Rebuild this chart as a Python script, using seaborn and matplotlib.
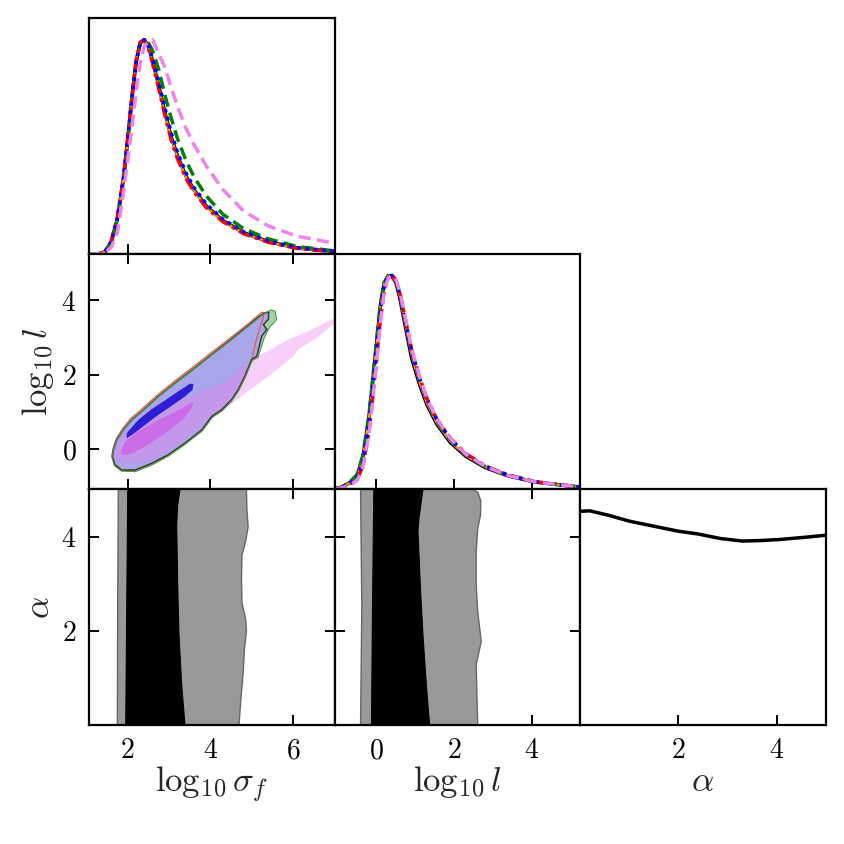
import matplotlib
matplotlib.use("Agg")
import matplotlib.pyplot as plt
import seaborn as sns
from matplotlib.ticker import FixedLocator, FuncFormatter

sns.set_theme(style="ticks")
plt.rcParams["font.family"] = ["DejaVu Serif"]
plt.rcParams["mathtext.fontset"] = "cm"

# ---------------- labels / ranges ----------------
param_labels = [r"$\log_{10}\sigma_f$", r"$\log_{10}l$", r"$\alpha$"]
param_limits = [(1.065, 7.0), (-1.08, 5.25), (0.0, 5.0)]
param_ticks = [[2, 4, 6], [0, 2, 4], [2, 4]]

series_names = ["black", "orange", "green", "red", "blue", "violet"]
series_colors = ["black", "orange", "green", "red", "blue", "violet"]

# ---------------- 1D marginals: log10 sigma_f ----------------
sigma_grid = [1.06, 1.3, 1.45, 1.6, 1.75, 1.9, 2.0, 2.1, 2.2, 2.3, 2.4, 2.5, 2.6,
              2.75, 2.9, 3.05, 3.2, 3.4, 3.6, 3.9, 4.3, 4.8, 5.4, 6.1, 7.0]
sigma_black = [0, 0, 0.01, 0.055, 0.165, 0.355, 0.535, 0.725, 0.895, 0.985, 1.0, 0.968, 0.902,
               0.785, 0.66, 0.547, 0.46, 0.366, 0.30, 0.223, 0.156, 0.099, 0.057, 0.027, 0.011]
sigma_orange = [0, 0, 0.01, 0.056, 0.168, 0.358, 0.538, 0.728, 0.897, 0.986, 1.0, 0.966, 0.898,
                0.78, 0.655, 0.542, 0.455, 0.362, 0.297, 0.22, 0.154, 0.097, 0.056, 0.026, 0.011]
sigma_green = [0, 0, 0.01, 0.052, 0.16, 0.35, 0.53, 0.72, 0.89, 0.98, 1.0, 0.985, 0.95,
               0.86, 0.74, 0.635, 0.54, 0.44, 0.36, 0.27, 0.185, 0.118, 0.07, 0.034, 0.014]
sigma_red = [0, 0, 0.011, 0.058, 0.172, 0.362, 0.54, 0.73, 0.9, 0.988, 1.0, 0.96, 0.89,
             0.77, 0.645, 0.53, 0.445, 0.355, 0.29, 0.215, 0.15, 0.094, 0.054, 0.025, 0.01]
sigma_blue = [0, 0, 0.01, 0.055, 0.165, 0.355, 0.535, 0.725, 0.893, 0.984, 1.0, 0.972, 0.91,
              0.8, 0.678, 0.565, 0.476, 0.38, 0.31, 0.232, 0.162, 0.103, 0.06, 0.029, 0.012]
sigma_violet = [0, 0.001, 0.006, 0.03, 0.1, 0.29, 0.44, 0.59, 0.75, 0.89, 0.97, 0.99, 1.0,
                0.935, 0.87, 0.777, 0.69, 0.59, 0.51, 0.41, 0.30, 0.20, 0.13, 0.082, 0.05]

# ---------------- 1D marginals: log10 l ----------------
l_grid = [-1.08, -0.9, -0.7, -0.5, -0.35, -0.2, -0.1, 0.0, 0.1, 0.2, 0.3, 0.4, 0.5,
          0.6, 0.75, 0.9, 1.1, 1.3, 1.55, 1.9, 2.3, 2.8, 3.4, 4.1, 5.25]
l_black = [0.003, 0.01, 0.03, 0.065, 0.15, 0.33, 0.5, 0.68, 0.86, 0.965, 0.998, 0.995, 0.965,
           0.895, 0.755, 0.617, 0.495, 0.395, 0.306, 0.22, 0.155, 0.102, 0.063, 0.034, 0.011]
l_orange = [0.003, 0.01, 0.029, 0.063, 0.146, 0.325, 0.495, 0.675, 0.856, 0.963, 0.998, 0.996, 0.967,
            0.9, 0.765, 0.63, 0.505, 0.402, 0.312, 0.225, 0.158, 0.104, 0.064, 0.034, 0.011]
l_green = [0.003, 0.011, 0.032, 0.07, 0.16, 0.34, 0.51, 0.69, 0.865, 0.967, 0.998, 0.997, 0.972,
           0.91, 0.78, 0.645, 0.52, 0.415, 0.322, 0.232, 0.163, 0.107, 0.066, 0.035, 0.011]
l_red = [0.002, 0.008, 0.022, 0.045, 0.11, 0.26, 0.42, 0.6, 0.79, 0.93, 0.99, 1.0, 0.98,
         0.92, 0.79, 0.655, 0.53, 0.425, 0.33, 0.24, 0.168, 0.11, 0.067, 0.036, 0.011]
l_blue = [0.002, 0.009, 0.026, 0.055, 0.13, 0.3, 0.47, 0.65, 0.835, 0.955, 0.997, 0.998, 0.975,
          0.912, 0.785, 0.65, 0.525, 0.42, 0.327, 0.236, 0.165, 0.108, 0.066, 0.035, 0.011]
l_violet = [0.002, 0.007, 0.02, 0.042, 0.105, 0.25, 0.41, 0.59, 0.78, 0.925, 0.988, 1.0, 0.982,
            0.925, 0.795, 0.66, 0.532, 0.425, 0.33, 0.238, 0.166, 0.108, 0.065, 0.035, 0.011]

# ---------------- 1D marginal: alpha (black chain only) ----------------
alpha_grid = [0.0, 0.2, 0.6, 1.0, 1.4, 2.0, 2.4, 2.85, 3.3, 3.65, 4.05, 4.55, 5.0]
alpha_black = [0.998, 1.0, 0.978, 0.952, 0.933, 0.905, 0.892, 0.871, 0.859, 0.861, 0.866, 0.876, 0.886]

# ---------------- 2D contours: log10 l vs log10 sigma_f ----------------
main_outer_x = [1.653, 1.734, 1.894, 2.096, 2.337, 2.74, 3.143, 3.545, 4.028, 4.511, 4.914, 5.155,
                5.316, 5.41, 5.40, 5.28, 5.36, 5.24, 5.12, 4.995, 4.83, 4.67, 4.51, 4.27, 4.03,
                3.79, 3.38, 2.98, 2.58, 2.18, 1.855, 1.69, 1.63]
main_outer_y = [-0.019, 0.251, 0.52, 0.79, 1.014, 1.419, 1.778, 2.119, 2.542, 2.964, 3.323, 3.548,
                3.665, 3.683, 3.49, 3.35, 3.22, 3.04, 2.5, 2.41, 1.96, 1.60, 1.33, 1.06, 0.88,
                0.52, 0.16, -0.15, -0.38, -0.56, -0.56, -0.42, -0.2]
green_outer_x = [1.645, 1.728, 1.888, 2.09, 2.33, 2.735, 3.14, 3.545, 4.03, 4.52, 4.93, 5.2,
                 5.38, 5.47, 5.56, 5.60, 5.52, 5.44, 5.30, 5.15, 5.01, 4.845, 4.685, 4.525, 4.285,
                 4.045, 3.805, 3.39, 2.99, 2.59, 2.19, 1.85, 1.675, 1.615]
green_outer_y = [-0.03, 0.24, 0.51, 0.78, 1.0, 1.405, 1.765, 2.105, 2.53, 2.955, 3.32, 3.56,
                 3.70, 3.74, 3.71, 3.49, 3.38, 3.30, 3.0, 2.47, 2.385, 1.94, 1.58, 1.31, 1.035,
                 0.855, 0.495, 0.135, -0.18, -0.42, -0.6, -0.59, -0.44, -0.2]
red_outer_x = [1.64, 1.72, 1.88, 2.08, 2.32, 2.72, 3.12, 3.52, 4.0, 4.49, 4.9, 5.14,
               5.24, 5.29, 5.27, 5.2, 5.1, 5.0, 4.84, 4.68, 4.52, 4.28, 4.04,
               3.8, 3.39, 2.99, 2.59, 2.19, 1.86, 1.69, 1.62]
red_outer_y = [0.0, 0.28, 0.56, 0.83, 1.06, 1.46, 1.82, 2.16, 2.58, 3.0, 3.36, 3.59,
               3.68, 3.67, 3.5, 3.3, 2.9, 2.42, 1.97, 1.61, 1.34, 1.07, 0.89,
               0.53, 0.17, -0.14, -0.37, -0.55, -0.55, -0.41, -0.18]
blue_inner_x = [1.975, 2.257, 2.579, 2.981, 3.304, 3.505, 3.585, 3.569, 3.384, 3.062, 2.74,
                2.418, 2.136, 1.975]
blue_inner_y = [0.43, 0.79, 1.077, 1.374, 1.616, 1.76, 1.751, 1.598, 1.419, 1.167, 0.925,
                0.655, 0.412, 0.296]
violet_outer_x = [1.653, 1.774, 2.176, 2.981, 3.787, 4.27, 4.752, 5.155, 5.80, 6.444, 6.927, 7.25,
                  7.25, 6.927, 6.605, 6.122, 6.0, 5.478, 4.833, 4.189, 3.787, 3.384, 2.901,
                  2.418, 1.935, 1.693]
violet_outer_y = [-0.109, 0.251, 0.70, 1.194, 1.553, 1.778, 2.137, 2.497, 2.901, 3.216, 3.485, 3.575,
                  3.413, 3.323, 3.018, 2.677, 2.497, 2.03, 1.49, 0.951, 0.628, 0.269, -0.091,
                  -0.324, -0.378, -0.288]
violet_inner_x = [1.854, 1.935, 2.257, 2.74, 3.223, 3.505, 3.585, 3.545, 3.384, 3.062, 2.66,
                  2.257, 1.975, 1.854]
violet_inner_y = [-0.019, 0.2, 0.48, 0.78, 1.05, 1.23, 1.28, 1.1, 0.86, 0.55, 0.24,
                  -0.03, -0.16, -0.13]

# ---------------- 2D contours with alpha (black chain only) ----------------
sa_outer_x = [1.773, 1.757, 1.749, 4.69, 4.74, 4.79, 4.82, 4.87, 4.85, 4.76, 4.75, 4.76,
              4.85, 4.91, 4.88, 4.87]
sa_outer_y = [5.0, 2.5, 0.0, 0.0, 0.6, 1.1, 1.6, 2.0, 2.25, 2.6, 3.1, 3.6, 3.9, 4.2, 4.6, 5.0]
sa_inner_x = [2.0, 1.976, 1.952, 3.384, 3.304, 3.239, 3.208, 3.184, 3.208, 3.263]
sa_inner_y = [5.0, 2.5, 0.0, 0.0, 0.85, 1.91, 2.97, 4.24, 4.667, 5.0]
la_outer_x = [-0.411, -0.378, -0.411, 2.61, 2.59, 2.57, 2.70, 2.61, 2.57, 2.57, 2.61,
              2.68, 2.69, 2.62, 2.50]
la_outer_y = [5.0, 2.5, 0.0, 0.0, 0.6, 1.28, 1.77, 2.41, 2.97, 3.68, 4.17, 4.45, 4.75, 4.93, 5.0]
la_inner_x = [-0.069, -0.103, -0.129, 1.37, 1.285, 1.198, 1.13, 1.07, 1.095, 1.198]
la_inner_y = [5.0, 2.5, 0.0, 0.0, 0.85, 1.91, 2.97, 4.10, 4.39, 5.0]

sigma_curves = dict(zip(series_names, [sigma_black, sigma_orange, sigma_green, sigma_red,
                                       sigma_blue, sigma_violet]))
l_curves = dict(zip(series_names, [l_black, l_orange, l_green, l_red, l_blue, l_violet]))
line_styles = {"black": dict(linestyle="-", lw=2.5),
               "orange": dict(linestyle="-", lw=1.6),
               "green": dict(dashes=(3.5, 1.8), lw=2.5),
               "red": dict(dashes=(3.5, 1.4, 1, 1.4), lw=2.5),
               "blue": dict(dashes=(1, 1.3), lw=2.6),
               "violet": dict(dashes=(3.5, 1.8), lw=2.5)}

# ---------------- figure ----------------
fig = plt.figure(figsize=(8.44, 8.44), dpi=100)
gs = fig.add_gridspec(3, 3, left=0.1055, right=0.9783, top=0.9783, bottom=0.141,
                      hspace=0, wspace=0)
axes = {}
for i in range(3):
    for j in range(i + 1):
        axes[(i, j)] = fig.add_subplot(gs[i, j])

fmt = FuncFormatter(lambda v, p: r"$%g$" % v)


def draw_1d(ax, xs, ys, color, style):
    kw = dict(style)
    lw = kw.pop("lw")
    if "dashes" in kw:
        line = sns.lineplot(x=xs, y=ys, ax=ax, color=color, lw=lw, estimator=None, sort=False)
        line.lines[-1].set_dashes(kw["dashes"])
    else:
        sns.lineplot(x=xs, y=ys, ax=ax, color=color, lw=lw, estimator=None, sort=False,
                     linestyle=kw["linestyle"])


# diagonal 1: sigma_f
ax = axes[(0, 0)]
for name, col in zip(series_names, series_colors):
    draw_1d(ax, sigma_grid, sigma_curves[name], col, line_styles[name])
# diagonal 2: l
ax = axes[(1, 1)]
for name, col in zip(series_names, series_colors):
    draw_1d(ax, l_grid, l_curves[name], col, line_styles[name])
# diagonal 3: alpha
ax = axes[(2, 2)]
draw_1d(ax, alpha_grid, alpha_black, "black", dict(linestyle="-", lw=2.5))

# 2D l vs sigma_f
ax = axes[(1, 0)]
ax.fill(green_outer_x, green_outer_y, facecolor="green", alpha=0.35, lw=0, zorder=1)
ax.fill(red_outer_x, red_outer_y, facecolor="#f08060", alpha=0.6, lw=0, zorder=1)
ax.fill(main_outer_x, main_outer_y, facecolor="#a9a6ea", lw=0, zorder=2)
ax.fill(violet_outer_x, violet_outer_y, facecolor="violet", alpha=0.38, lw=0, zorder=3)
ax.fill(blue_inner_x, blue_inner_y, facecolor="#2b1ed6", lw=0, zorder=4)
ax.fill(violet_inner_x, violet_inner_y, facecolor="#cc66e6", alpha=0.85, lw=0, zorder=5)
ax.fill(red_outer_x, red_outer_y, facecolor="none", edgecolor="#e06050", lw=0.9, zorder=6)
ax.fill(main_outer_x, main_outer_y, facecolor="none", edgecolor="#3a3a3a", lw=1.1, zorder=6)
ax.fill(green_outer_x, green_outer_y, facecolor="none", edgecolor="#4a9a4a", lw=0.8, zorder=6)

# 2D alpha vs sigma_f / l
for (key, ox, oy, ix, iy) in [((2, 0), sa_outer_x, sa_outer_y, sa_inner_x, sa_inner_y),
                              ((2, 1), la_outer_x, la_outer_y, la_inner_x, la_inner_y)]:
    ax = axes[key]
    ax.fill(ox, oy, facecolor="#999999", edgecolor="#666666", lw=1.0, zorder=1)
    ax.fill(ix, iy, facecolor="black", edgecolor="black", lw=0.8, zorder=2)

# ---------------- axes styling ----------------
for (i, j), ax in axes.items():
    ax.set_xlim(*param_limits[j])
    ax.xaxis.set_major_locator(FixedLocator(param_ticks[j]))
    ax.xaxis.set_major_formatter(fmt)
    for s in ax.spines.values():
        s.set_linewidth(1.6)
        s.set_color("black")
    ax.set_xlabel("")
    ax.set_ylabel("")
    if i == j:
        ax.set_ylim(0, 1.1)
        ax.set_yticks([])
        ax.tick_params(axis="x", direction="in", length=7, width=1.4, top=False,
                       labelbottom=(i == 2), labelsize=20, pad=9, colors="black")
    else:
        ax.set_ylim(*param_limits[i])
        ax.yaxis.set_major_locator(FixedLocator(param_ticks[i]))
        ax.yaxis.set_major_formatter(fmt)
        ax.tick_params(axis="both", direction="in", length=7, width=1.4, top=True,
                       right=True, labelbottom=(i == 2), labelleft=(j == 0),
                       labelsize=20, pad=9, colors="black")
    if i == 2:
        ax.set_xlabel(param_labels[j], fontsize=25, labelpad=0)
    if j == 0 and i > 0:
        ax.set_ylabel(param_labels[i], fontsize=25, labelpad=4)

fig.savefig("out.png", dpi=100)
